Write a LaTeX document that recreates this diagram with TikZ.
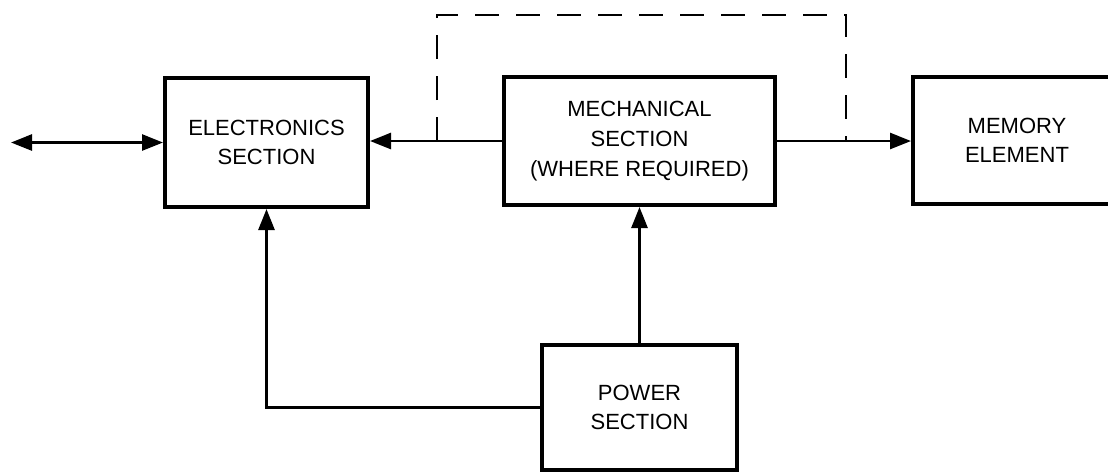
\documentclass[tikz,border=0pt]{standalone}
\usepackage{fontspec}
\setmainfont{Liberation Sans}
\usetikzlibrary{arrows.meta}
\begin{document}
\begin{tikzpicture}[x=0.5pt,y=-0.5pt,
  blk/.style={draw,line width=2pt,inner sep=0pt,align=center,
    font=\fontsize{11}{14.5}\selectfont},
  conn/.style={line width=1.3pt},
  arr/.style={conn,-{Triangle[length=10.5pt,width=8pt]}},
  darr/.style={conn,{Triangle[length=10.5pt,width=8pt]}-{Triangle[length=10.5pt,width=8pt]}},
  dsh/.style={line width=1.3pt,dash pattern=on 12pt off 8.5pt}]
\path[use as bounding box] (0,0) rectangle (1108,473);
\clip (0,0) rectangle (1108,473);
\node[blk,minimum width=101.5pt,minimum height=64.5pt] (elec) at (266.5,142.5) {ELECTRONICS\\SECTION};
\node[blk,minimum width=135.5pt,minimum height=64pt,
  font=\fontsize{11}{15}\selectfont] (mech) at (639.5,141) {MECHANICAL\\SECTION\\(WHERE REQUIRED)};
\node[blk,minimum width=104pt,minimum height=63.5pt] (mem) at (1017,140.5) {MEMORY\\ELEMENT};
\node[blk,minimum width=97.5pt,minimum height=62.5pt] (pow) at (639.5,407.5) {POWER\\SECTION};
\coordinate (ext) at (11,142.5);
\coordinate (dl) at (437,141);
\coordinate (dr) at (846,141);
\coordinate (dlt) at (437,15);
\coordinate (drt) at (846,15);
\draw[darr] (ext) -- (elec.west);
\draw[arr] (mech.west) -- (mech.west -| elec.east);
\draw[arr] (mech.east) -- (mech.east -| mem.west);
\draw[dsh] (dl) -- (dlt) -- (drt) -- (dr);
\draw[arr] (pow.north) -- (mech.south);
\draw[arr] (pow.west) -| (elec.south);
\end{tikzpicture}
\end{document}
